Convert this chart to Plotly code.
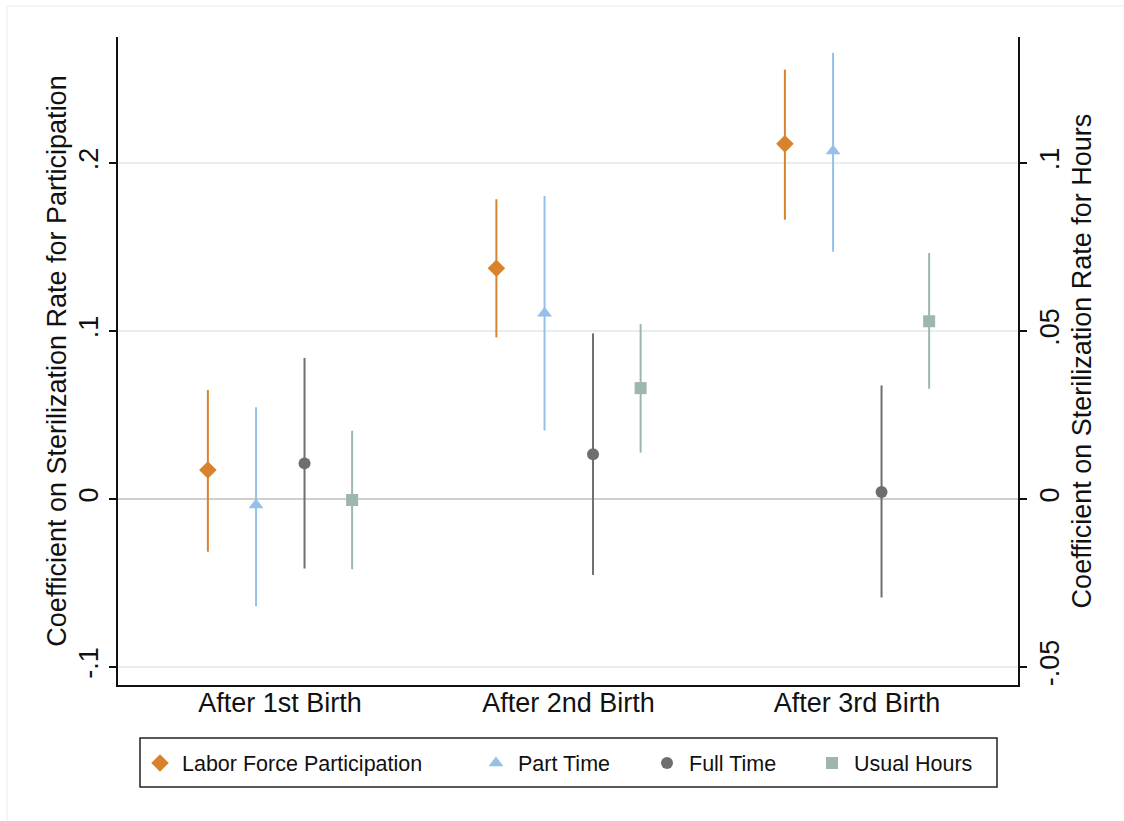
import plotly.graph_objects as go

# ---------------- data ----------------
categories = ["After 1st Birth", "After 2nd Birth", "After 3rd Birth"]
group_pos = [1, 2, 3]

# Labor force participation (left axis: participation)
lfp_coef = [0.0173, 0.1373, 0.2114]
lfp_lo = [-0.0314, 0.0962, 0.1663]
lfp_hi = [0.0649, 0.1784, 0.2556]

# Hours outcomes (right axis: hours)
pt_coef = [-0.0018, 0.0553, 0.1036]
pt_lo = [-0.0319, 0.0204, 0.0736]
pt_hi = [0.0273, 0.0902, 0.1328]

ft_coef = [0.0106, 0.0133, 0.0021]
ft_lo = [-0.0207, -0.0226, -0.0293]
ft_hi = [0.0420, 0.0493, 0.0338]

uh_coef = [-0.0003, 0.0330, 0.0529]
uh_lo = [-0.0209, 0.0138, 0.0328]
uh_hi = [0.0203, 0.0521, 0.0732]

left_ticks = [-0.1, 0, 0.1, 0.2]
left_ticktext = ["-.1", "0", ".1", ".2"]
right_ticks = [-0.05, 0, 0.05, 0.1]
right_ticktext = ["-.05", "0", ".05", ".1"]

# ---------------- style ----------------
FONT = "Liberation Sans, Arial, Helvetica, sans-serif"
FS = 27
series = [
    dict(name="Labor Force Participation", c=lfp_coef, lo=lfp_lo, hi=lfp_hi,
         color="#D8832B", symbol="diamond", size=13.5, off=-0.25, axis="y", legend="legend"),
    dict(name="Part Time", c=pt_coef, lo=pt_lo, hi=pt_hi,
         color="#94C0E9", symbol="triangle-up", size=13, off=-0.083, axis="y2", legend="legend2"),
    dict(name="Full Time", c=ft_coef, lo=ft_lo, hi=ft_hi,
         color="#6E6E6E", symbol="circle", size=12, off=0.085, axis="y2", legend="legend3"),
    dict(name="Usual Hours", c=uh_coef, lo=uh_lo, hi=uh_hi,
         color="#9DB7AF", symbol="square", size=12, off=0.25, axis="y2", legend="legend4"),
]

fig = go.Figure()
for s in series:
    fig.add_trace(go.Scatter(
        x=[g + s["off"] for g in group_pos],
        y=s["c"],
        mode="markers",
        name=s["name"],
        yaxis=s["axis"],
        legend=s["legend"],
        marker=dict(color=s["color"], symbol=s["symbol"], size=s["size"], line=dict(width=0)),
        error_y=dict(type="data", symmetric=False,
                     array=[h - c for h, c in zip(s["hi"], s["c"])],
                     arrayminus=[c - l for c, l in zip(s["c"], s["lo"])],
                     color=s["color"], thickness=2, width=0),
    ))

W, H = 1124, 821
L, R, T, B = 118, 106, 37, 136
PW, PH = W - L - R, H - T - B

# left axis range from pixel mapping: 0 at y=499, 168 px per 0.1
y_top = (499 - T) / 1680
y_bot = (499 - (H - B)) / 1680

def px_x(px):
    return (px - L) / PW

def px_y(py):
    return (H - B - py) / PH

legend_common = dict(orientation="h", yanchor="middle", xanchor="left",
                     bgcolor="rgba(0,0,0,0)", borderwidth=0, itemwidth=34,
                     font=dict(family=FONT, size=21.5, color="#111111"),
                     itemsizing="trace")

fig.update_layout(
    width=W, height=H,
    margin=dict(l=L, r=R, t=T, b=B),
    paper_bgcolor="white", plot_bgcolor="white",
    font=dict(family=FONT, size=FS, color="#111111"),
    showlegend=True,
    legend=dict(x=px_x(138), y=px_y(763), **legend_common),
    legend2=dict(x=px_x(474), y=px_y(763), **legend_common),
    legend3=dict(x=px_x(645), y=px_y(763), **legend_common),
    legend4=dict(x=px_x(810), y=px_y(763), **legend_common),
    xaxis=dict(range=[0.4385, 3.558], tickvals=group_pos, ticktext=categories,
               showgrid=False, zeroline=False, showline=True, linecolor="#111111",
               linewidth=1.5, ticks="", ticklabelstandoff=-7,
               tickfont=dict(size=FS, family=FONT, color="#111111")),
    yaxis=dict(range=[y_bot, y_top], tickvals=left_ticks, ticktext=left_ticktext,
               tickangle=-90, showgrid=True, gridcolor="#E8EEF0", gridwidth=1.5,
               zeroline=True, zerolinecolor="#CFCFCF", zerolinewidth=2,
               showline=True, linecolor="#111111", linewidth=1.5,
               ticks="outside", ticklen=7, tickwidth=1.5, tickcolor="#111111",
               tickfont=dict(size=FS, family=FONT, color="#111111"),
               title=dict(text="Coefficient on Sterilization Rate for Participation",
                          font=dict(size=FS, family=FONT, color="#111111"), standoff=0)),
    yaxis2=dict(range=[y_bot / 2, y_top / 2], overlaying="y", side="right",
                tickvals=right_ticks, ticktext=right_ticktext, tickangle=-90,
                showgrid=False, zeroline=False,
                showline=True, linecolor="#111111", linewidth=1.5,
                ticks="outside", ticklen=7, tickwidth=1.5, tickcolor="#111111",
                tickfont=dict(size=FS, family=FONT, color="#111111"),
                title=dict(text="Coefficient on Sterilization Rate for Hours",
                           font=dict(size=FS, family=FONT, color="#111111"), standoff=8)),
    shapes=[
        # legend frame
        dict(type="rect", xref="paper", yref="paper",
             x0=px_x(140), x1=px_x(997), y0=px_y(787), y1=px_y(738),
             line=dict(color="#222222", width=1.5), fillcolor="rgba(0,0,0,0)"),
        # faint outer frame
        dict(type="line", xref="paper", yref="paper",
             x0=px_x(7), x1=px_x(1124), y0=px_y(6), y1=px_y(6),
             line=dict(color="#EBEBEB", width=1)),
        dict(type="line", xref="paper", yref="paper",
             x0=px_x(7), x1=px_x(7), y0=px_y(6), y1=px_y(821),
             line=dict(color="#EBEBEB", width=1)),
    ],
)

fig.write_html("out.html", config={"displayModeBar": False},
               post_script="document.body.style.margin='0px';")
